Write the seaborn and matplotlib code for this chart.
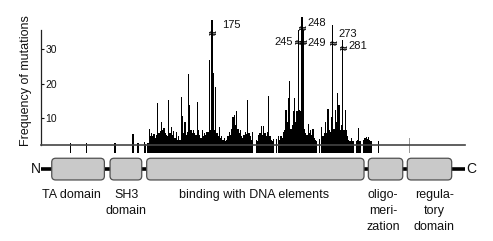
import numpy as np
import pandas as pd
import seaborn as sns
import matplotlib
matplotlib.use("Agg")
import matplotlib.pyplot as plt
from matplotlib.patches import FancyBboxPatch

# ---------------- data ----------------
# mutation frequency per residue
scattered_residues = [60, 73, 96, 97]
scattered_counts = [2.7, 2.7, 2.8, 2.8]

dense_start = 110
dense_counts = [
    0, 5.4, 0, 0, 0, 2.9, 0, 0, 0, 0,                      # 110-119
    3.1, 2.6, 0, 2.8, 6.9, 4.8, 5.6, 5.0, 5.4, 4.3,        # 120-129
    5.3, 14.5, 5.8, 6.2, 9.0, 6.5, 7.3, 5.8, 5.3, 4.8,     # 130-139
    15.3, 5.8, 7.6, 5.3, 6.2, 4.3, 6.0, 3.8, 4.8, 3.8,     # 140-149
    16.1, 10.8, 5.8, 9.0, 5.3, 6.0, 22.8, 14.0, 6.5, 5.8,  # 150-159
    6.5, 5.8, 5.3, 14.6, 6.5, 5.3, 4.3, 6.5, 4.8, 5.8,     # 160-169
    5.3, 6.0, 6.0, 26.8, 6.5, 38.5, 23.0, 6.5, 19.0, 5.8,  # 170-179
    4.8, 7.6, 4.3, 5.0, 3.6, 4.2, 3.5, 3.8, 4.8, 6.0,      # 180-189
    5.3, 7.0, 10.5, 11.0, 8.0, 12.2, 7.0, 5.8, 6.5, 4.8,   # 190-199
    4.3, 5.3, 6.0, 5.5, 15.3, 5.8, 5.0, 3.8, 6.0, 0,       # 200-209
    0, 3.6, 3.3, 5.3, 5.8, 7.9, 5.3, 7.7, 5.8, 4.8,        # 210-219
    6.0, 16.6, 4.8, 3.6, 3.3, 4.0, 0, 4.0, 0, 5.0,         # 220-229
    3.8, 4.8, 4.3, 6.0, 6.5, 12.4, 9.0, 16.0, 20.8, 7.0,   # 230-239
    8.0, 12.0, 16.0, 9.0, 12.0, 35.6, 12.4, 12.0, 39.4, 35.6,  # 240-249
    7.0, 5.8, 5.3, 8.3, 5.8, 6.5, 5.3, 6.9, 4.3, 3.8,      # 250-259
    3.4, 0, 4.0, 0, 7.5, 4.8, 5.8, 9.0, 5.8, 12.7,         # 260-269
    6.5, 6.0, 10.5, 37.0, 7.0, 12.4, 9.0, 17.2, 13.9, 6.5, # 270-279
    8.0, 32.7, 6.5, 12.4, 6.5, 4.8, 3.8, 3.3, 4.3, 3.3,    # 280-289
    3.3, 0, 3.4, 3.6, 7.1, 3.3, 0, 0, 3.8, 4.3,            # 290-299
    4.5, 4.0, 4.6, 3.8, 3.3, 0, 0, 0, 0, 0, 3.5,           # 300-310
]
grey_residues = [335]
grey_counts = [4.2]

# hotspot labels and where the bar is broken
hotspot_residues = [175, 245, 248, 249, 273, 281]
hotspot_labels = ["175", "245", "248", "249", "273", "281"]
hotspot_break = [34.6, 32.2, 36.2, 32.2, 31.7, 30.3]

y_ticks = [10, 20, 30]

# protein domains (schematic, in the same residue scale)
domain_start = [45.0, 92.3, 122.0, 301.8, 333.4]
domain_end = [87.7, 118.0, 298.3, 329.7, 369.4]
domain_labels = ["TA domain", "SH3\ndomain", "binding with DNA elements",
                 "oligo-\nmeri-\nzation", "regula-\ntory\ndomain"]
domain_label_x = [60.7, 105.3, 209.5, 313.7, 355.4]

# ---------------- build table ----------------
dense_residues = list(range(dense_start, dense_start + len(dense_counts)))
df = pd.DataFrame({
    "residue": scattered_residues + dense_residues,
    "count": scattered_counts + dense_counts,
})
df_grey = pd.DataFrame({"residue": grey_residues, "count": grey_counts})

# ---------------- style ----------------
sns.set_theme(style="white")
plt.rcParams["font.family"] = ["Liberation Sans", "DejaVu Sans"]

fig = plt.figure(figsize=(4.93, 2.41), dpi=100)
ax = fig.add_axes([0.0832, 0.3983, 0.8600, 0.4772])

sns.histplot(data=df, x="residue", weights="count", discrete=True, shrink=1.0,
             color="black", alpha=1, linewidth=0, ax=ax)
sns.histplot(data=df_grey, x="residue", weights="count", discrete=True, shrink=1.0,
             color="#9a9a9a", alpha=1, linewidth=0, ax=ax)
for p in ax.patches:
    p.set_clip_on(False)

ax.set_xlim(36.3, 380.2)
ax.set_ylim(2.26, 35.6)
ax.set_xlabel("")
ax.set_ylabel("")
ax.set_xticks([])
ax.set_yticks(y_ticks)
ax.set_yticklabels([str(t) for t in y_ticks])
ax.tick_params(axis="y", direction="in", length=2.5, width=0.8, pad=-3,
               labelsize=7.5, colors="#111111", left=True)
for lab in ax.get_yticklabels():
    lab.set_horizontalalignment("left")
for side in ["top", "right"]:
    ax.spines[side].set_visible(False)
ax.spines["left"].set_color("#222222")
ax.spines["left"].set_linewidth(0.9)
ax.spines["bottom"].set_color("#444444")
ax.spines["bottom"].set_linewidth(1.2)

# break marks on the truncated hotspot bars
ax.scatter(hotspot_residues, hotspot_break, marker=r"$\approx$", s=22,
           color="black", linewidths=0.3, zorder=5, clip_on=False)

# hotspot labels
label_pos = {
    "175": (183.1, 37.0, "left"),
    "245": (240.7, 32.2, "right"),
    "248": (252.0, 37.5, "left"),
    "249": (252.0, 31.7, "left"),
    "273": (277.2, 34.4, "left"),
    "281": (285.3, 31.0, "left"),
}
for lab in hotspot_labels:
    x, y, ha = label_pos[lab]
    ax.text(x, y, lab, ha=ha, va="center", fontsize=8, color="#111111",
            clip_on=False)

fig.text(0.0527, 0.664, "Frequency of mutations", rotation=90,
         ha="center", va="center", fontsize=9, color="#111111")

# ---------------- domain diagram ----------------
ax2 = fig.add_axes([0.0832, 0.0, 0.8600, 0.3776], sharex=ax)
ax2.set_ylim(-2.81, 1.38)
ax2.axis("off")
ax2.axhline(0.5, color="black", lw=2.6, zorder=1)
aspect = 1.233 / 21.7
for s, e in zip(domain_start, domain_end):
    box = FancyBboxPatch((s, 0), e - s, 1,
                         boxstyle="round,pad=0,rounding_size=3.2",
                         mutation_aspect=aspect, facecolor="#c9c9c9",
                         edgecolor="#505050", linewidth=0.9, zorder=2)
    ax2.add_patch(box)
for lab, x in zip(domain_labels, domain_label_x):
    ax2.text(x, -0.42, lab, ha="center", va="top", fontsize=9,
             linespacing=1.45, color="#111111")
ax2.text(32.3, 0.5, "N", ha="center", va="center", fontsize=10,
         color="#111111", clip_on=False)
ax2.text(385.0, 0.5, "C", ha="center", va="center", fontsize=10,
         color="#111111", clip_on=False)

fig.savefig("out.png", dpi=100, facecolor="white")
